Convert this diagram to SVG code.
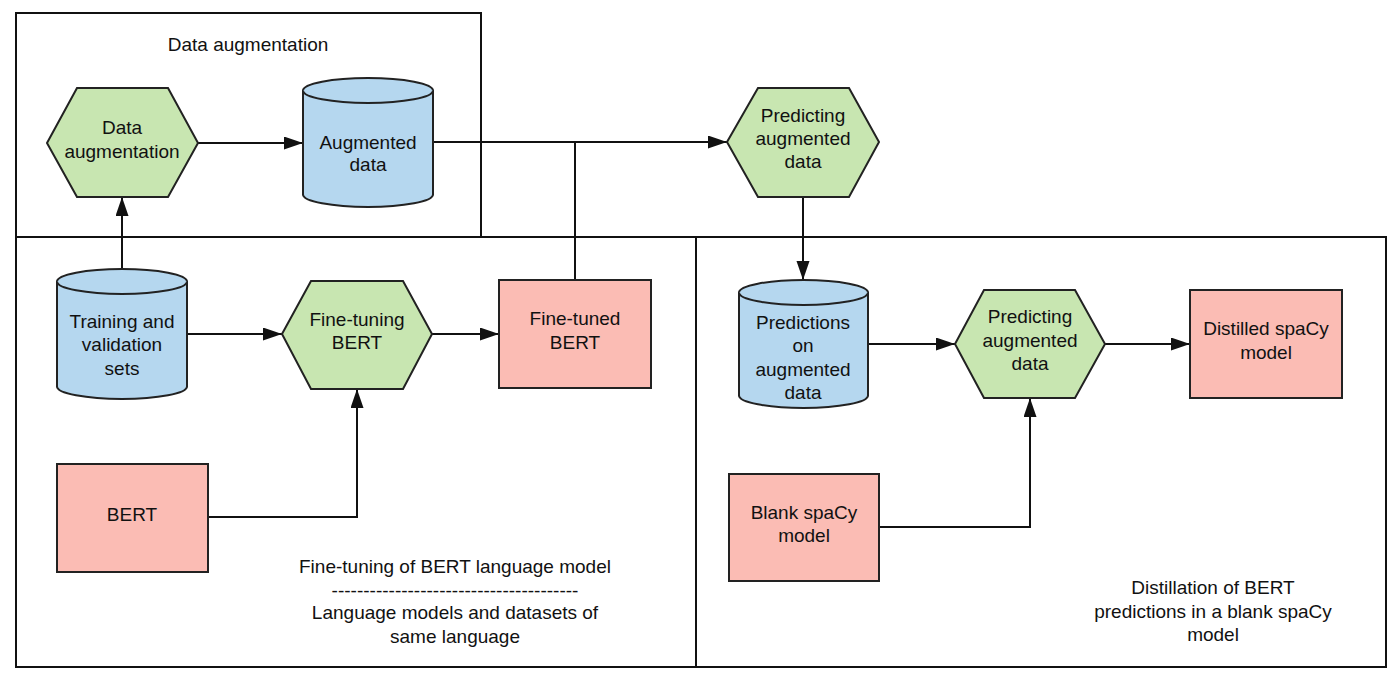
<svg xmlns="http://www.w3.org/2000/svg" width="1400" height="685" viewBox="0 0 1400 685">
<style>
.frame{fill:none;stroke:#111;stroke-width:2}
.hex{fill:#c8e6b1;stroke:#222;stroke-width:2;stroke-linejoin:miter}
.cyl{fill:#b5d7ef;stroke:#222;stroke-width:2}
.box{fill:#fbbcb4;stroke:#222;stroke-width:2}
.edge{fill:none;stroke:#111;stroke-width:2}
text{font-family:"Liberation Sans",Arial,sans-serif;font-size:19px;fill:#111;text-anchor:middle}
</style>
<defs>
<marker id="arr" markerUnits="userSpaceOnUse" markerWidth="20" markerHeight="14" refX="19" refY="6.5" orient="auto">
<path d="M0,0 L19,6.5 L0,13 Z" fill="#111"/>
</marker>
</defs>
<rect width="1400" height="685" fill="#fff"/>
<g id="frames">
<rect id="frame-augmentation" class="frame" x="16" y="13" width="465" height="224"/>
<rect id="frame-finetuning" class="frame" x="16" y="237" width="680" height="430"/>
<rect id="frame-distillation" class="frame" x="696" y="237" width="690" height="430"/>
<text x="248" y="51">Data augmentation</text>
<text x="455" y="573">Fine-tuning of BERT language model</text>
<text x="455" y="597">---------------------------------------</text>
<text x="455" y="619">Language models and datasets of</text>
<text x="455" y="643">same language</text>
<text x="1213" y="594">Distillation of BERT</text>
<text x="1213" y="618">predictions in a blank spaCy</text>
<text x="1213" y="641">model</text>
</g>
<g id="connectors">
<path class="edge" d="M198,143 L303,143" marker-end="url(#arr)"/>
<path class="edge" d="M122,269 L122,197" marker-end="url(#arr)"/>
<path class="edge" d="M433,142 L727,142" marker-end="url(#arr)"/>
<path class="edge" d="M575,280 L575,142"/>
<path class="edge" d="M803,197 L803,280" marker-end="url(#arr)"/>
<path class="edge" d="M187,334 L282,334" marker-end="url(#arr)"/>
<path class="edge" d="M432,334 L499,334" marker-end="url(#arr)"/>
<path class="edge" d="M208,517 L357,517 L357,389" marker-end="url(#arr)"/>
<path class="edge" d="M868,344 L955,344" marker-end="url(#arr)"/>
<path class="edge" d="M1105,344 L1190,344" marker-end="url(#arr)"/>
<path class="edge" d="M879,527 L1030,527 L1030,398" marker-end="url(#arr)"/>
</g>
<g id="node-data-augmentation">
<polygon class="hex" points="47,143 77,88 168,88 198,143 168,197 77,197"/>
<text x="122" y="134">Data</text>
<text x="122" y="158">augmentation</text>
</g>
<g id="node-augmented-data">
<path class="cyl" d="M303,90.5 L303,194.5 A65,12.5 0 0 0 433,194.5 L433,90.5 A65,12.5 0 0 0 303,90.5 Z"/>
<path class="cyl" d="M303,90.5 A65,12.5 0 0 0 433,90.5"/>
<text x="368" y="149">Augmented</text>
<text x="368" y="171">data</text>
</g>
<g id="node-predicting-1">
<polygon class="hex" points="727,142 758,88 849,88 879,142 849,197 758,197"/>
<text x="803" y="122">Predicting</text>
<text x="803" y="145">augmented</text>
<text x="803" y="168">data</text>
</g>
<g id="node-training">
<path class="cyl" d="M57,281.5 L57,386.5 A65,12.5 0 0 0 187,386.5 L187,281.5 A65,12.5 0 0 0 57,281.5 Z"/>
<path class="cyl" d="M57,281.5 A65,12.5 0 0 0 187,281.5"/>
<text x="122" y="328">Training and</text>
<text x="122" y="351">validation</text>
<text x="122" y="375">sets</text>
</g>
<g id="node-fine-tuning">
<polygon class="hex" points="282,334 311,281 403,281 432,334 403,389 311,389"/>
<text x="357" y="326">Fine-tuning</text>
<text x="357" y="349">BERT</text>
</g>
<g id="node-fine-tuned">
<rect class="box" x="499" y="280" width="152" height="108"/>
<text x="575" y="325">Fine-tuned</text>
<text x="575" y="349">BERT</text>
</g>
<g id="node-bert">
<rect class="box" x="57" y="464" width="151" height="108"/>
<text x="132" y="521">BERT</text>
</g>
<g id="node-predictions">
<path class="cyl" d="M739,292.5 L739,395.5 A64.5,12.5 0 0 0 868,395.5 L868,292.5 A64.5,12.5 0 0 0 739,292.5 Z"/>
<path class="cyl" d="M739,292.5 A64.5,12.5 0 0 0 868,292.5"/>
<text x="803" y="329">Predictions</text>
<text x="803" y="352">on</text>
<text x="803" y="376">augmented</text>
<text x="803" y="399">data</text>
</g>
<g id="node-predicting-2">
<polygon class="hex" points="955,344 984,290 1075,290 1105,344 1075,398 984,398"/>
<text x="1030" y="323">Predicting</text>
<text x="1030" y="347">augmented</text>
<text x="1030" y="370">data</text>
</g>
<g id="node-distilled">
<rect class="box" x="1190" y="290" width="152" height="108"/>
<text x="1266" y="335">Distilled spaCy</text>
<text x="1266" y="359">model</text>
</g>
<g id="node-blank">
<rect class="box" x="729" y="474" width="150" height="107"/>
<text x="804" y="519">Blank spaCy</text>
<text x="804" y="542">model</text>
</g>
</svg>
